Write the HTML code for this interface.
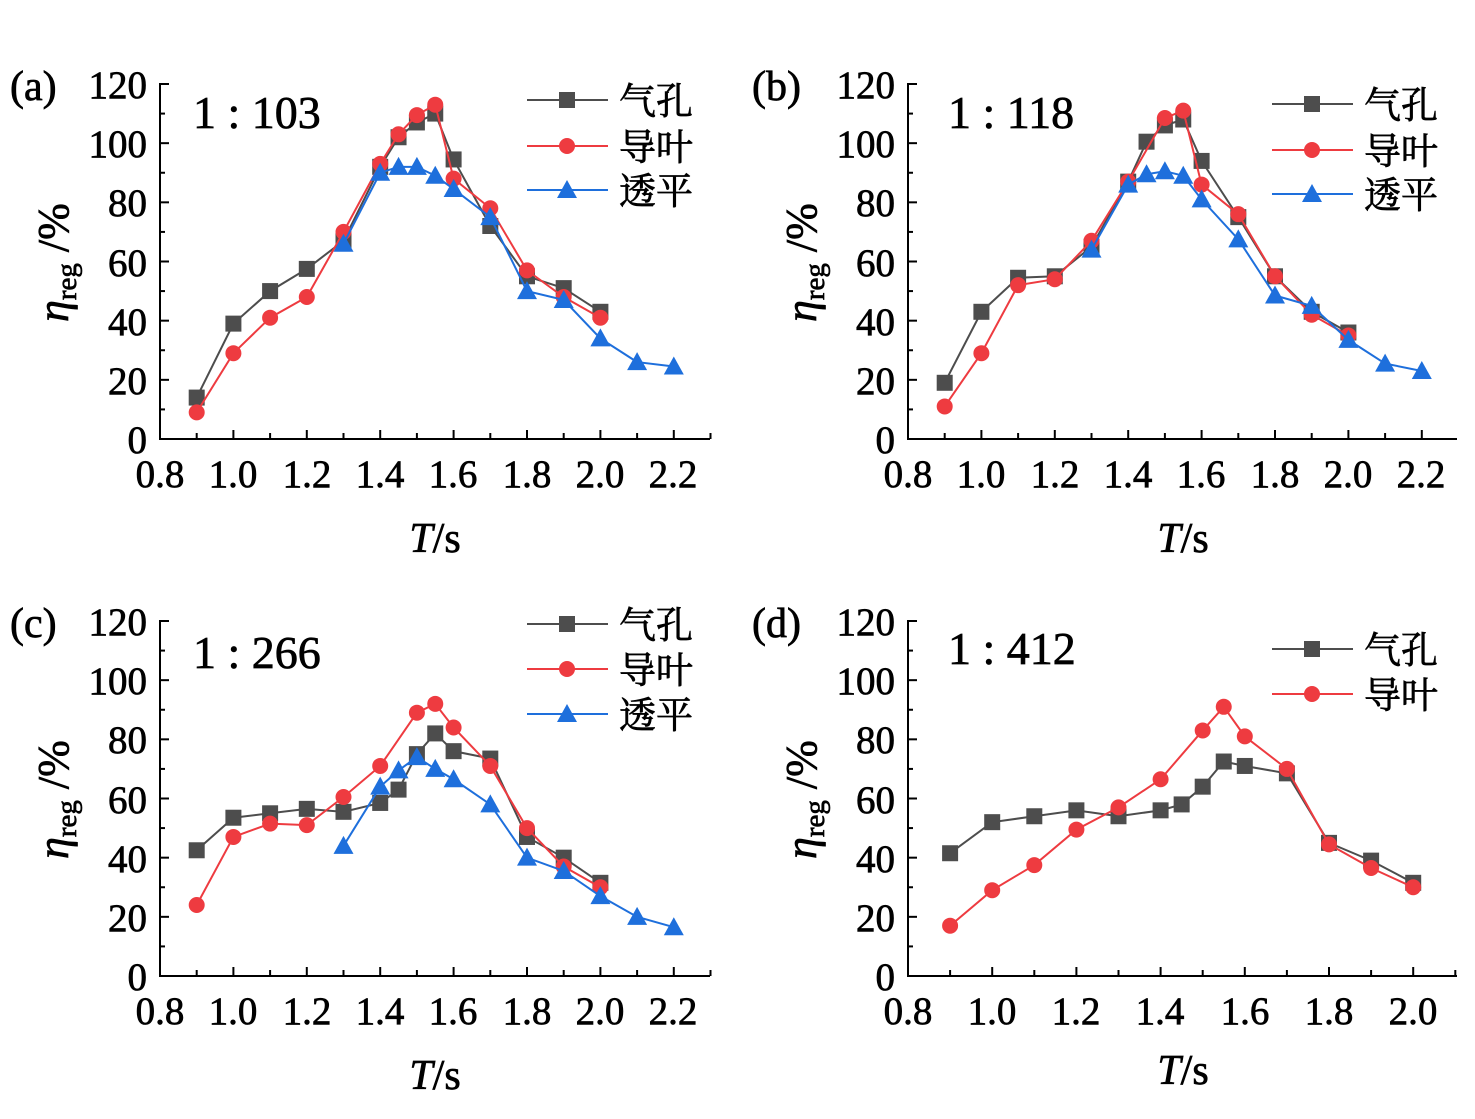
<!DOCTYPE html>
<html><head><meta charset="utf-8"><style>
body{margin:0;background:#fff}
svg{display:block}
text{font-family:"Liberation Serif","Noto Serif CJK SC",serif;fill:#000;stroke:#000;stroke-width:0.7}
.t{font-size:39px}
.lg{font-size:37px;font-family:"Noto Sans CJK SC","WenQuanYi Zen Hei",sans-serif;stroke-width:0.3}
</style></head><body>
<svg id="s" width="1475" height="1119" xmlns="http://www.w3.org/2000/svg">
<g id="g"></g>
<text x="10" y="100" style="font-size:42px">(a)</text>
<text x="752" y="100" style="font-size:42px">(b)</text>
<text x="10" y="637" style="font-size:42px">(c)</text>
<text x="752" y="637" style="font-size:42px">(d)</text>
<text x="193" y="128" style="font-size:46px">1 : 103</text>
<text x="948" y="128" style="font-size:46px">1 : 118</text>
<text x="193" y="668" style="font-size:46px">1 : 266</text>
<text x="948" y="664" style="font-size:46px">1 : 412</text>
<g class="t" text-anchor="end">
<text x="147" y="98">120</text><text x="147" y="157">100</text><text x="147" y="216">80</text><text x="147" y="276">60</text><text x="147" y="335">40</text><text x="147" y="394">20</text><text x="147" y="453">0</text>
<text x="895" y="98">120</text><text x="895" y="157">100</text><text x="895" y="216">80</text><text x="895" y="276">60</text><text x="895" y="335">40</text><text x="895" y="394">20</text><text x="895" y="453">0</text>
<text x="147" y="635">120</text><text x="147" y="694">100</text><text x="147" y="753">80</text><text x="147" y="813">60</text><text x="147" y="872">40</text><text x="147" y="931">20</text><text x="147" y="990">0</text>
<text x="895" y="635">120</text><text x="895" y="694">100</text><text x="895" y="753">80</text><text x="895" y="813">60</text><text x="895" y="872">40</text><text x="895" y="931">20</text><text x="895" y="990">0</text>
</g>
<g class="t" text-anchor="middle">
<text x="160" y="487">0.8</text><text x="233" y="487">1.0</text><text x="307" y="487">1.2</text><text x="380" y="487">1.4</text><text x="453" y="487">1.6</text><text x="527" y="487">1.8</text><text x="600" y="487">2.0</text><text x="673" y="487">2.2</text>
<text x="908" y="487">0.8</text><text x="981" y="487">1.0</text><text x="1055" y="487">1.2</text><text x="1128" y="487">1.4</text><text x="1201" y="487">1.6</text><text x="1275" y="487">1.8</text><text x="1348" y="487">2.0</text><text x="1421" y="487">2.2</text>
<text x="160" y="1024">0.8</text><text x="233" y="1024">1.0</text><text x="307" y="1024">1.2</text><text x="380" y="1024">1.4</text><text x="453" y="1024">1.6</text><text x="527" y="1024">1.8</text><text x="600" y="1024">2.0</text><text x="673" y="1024">2.2</text>
<text x="908" y="1024">0.8</text><text x="992" y="1024">1.0</text><text x="1076" y="1024">1.2</text><text x="1160" y="1024">1.4</text><text x="1245" y="1024">1.6</text><text x="1329" y="1024">1.8</text><text x="1413" y="1024">2.0</text>
</g>
<g style="font-size:42px" text-anchor="middle">
<text x="435" y="552"><tspan font-style="italic">T</tspan>/s</text>
<text x="1183" y="552"><tspan font-style="italic">T</tspan>/s</text>
<text x="435" y="1089"><tspan font-style="italic">T</tspan>/s</text>
<text x="1183" y="1084"><tspan font-style="italic">T</tspan>/s</text>
</g>
<g style="font-size:44px">
<text transform="translate(68,322) rotate(-90)"><tspan font-style="italic">η</tspan><tspan font-size="29" dy="8">reg</tspan><tspan dy="-8"> /%</tspan></text>
<text transform="translate(816,322) rotate(-90)"><tspan font-style="italic">η</tspan><tspan font-size="29" dy="8">reg</tspan><tspan dy="-8"> /%</tspan></text>
<text transform="translate(68,859) rotate(-90)"><tspan font-style="italic">η</tspan><tspan font-size="29" dy="8">reg</tspan><tspan dy="-8"> /%</tspan></text>
<text transform="translate(816,859) rotate(-90)"><tspan font-style="italic">η</tspan><tspan font-size="29" dy="8">reg</tspan><tspan dy="-8"> /%</tspan></text>
</g>
<g class="lg">
<text x="619" y="114">气孔</text><text x="619" y="160">导叶</text><text x="619" y="204">透平</text>
<text x="1364" y="118">气孔</text><text x="1364" y="164">导叶</text><text x="1364" y="208">透平</text>
<text x="619" y="638">气孔</text><text x="619" y="683">导叶</text><text x="619" y="728">透平</text>
<text x="1364" y="663">气孔</text><text x="1364" y="708">导叶</text>
</g>
</svg>
<script>
const G=document.getElementById('g');let h='';
const C={k:'#4d4d4d',r:'#ee3b40',b:'#1e6fdc'};
function mk(t,x,y){if(t=='k')return `<rect x="${x-8}" y="${y-8}" width="16" height="16" fill="${C.k}"/>`;
if(t=='r')return `<circle cx="${x}" cy="${y}" r="8" fill="${C.r}"/>`;
return `<polygon points="${x},${y-10} ${x-10},${y+8} ${x+10},${y+8}" fill="${C.b}"/>`;}
function panel(p){const {x0,y0,dx,xend,ser,leg}=p;const sy=355/120;
 h+=`<path d="M${x0} ${y0-355-1}V${y0}H${xend}" fill="none" stroke="#000" stroke-width="2"/>`;
 for(let v=0;v<=120;v+=10){const y=y0-v*sy;h+=`<line x1="${x0}" x2="${x0+(v%20?5:9)}" y1="${y}" y2="${y}" stroke="#000" stroke-width="2"/>`;}
 for(let i=1;x0+i*dx<=xend+1;i++){const x=x0+i*dx;h+=`<line x1="${x}" x2="${x}" y1="${y0}" y2="${y0-(i%2?6:9)}" stroke="#000" stroke-width="2"/>`;}
 const X=t=>x0+(t-0.8)*10*dx,Y=v=>y0-v*sy;
 for(const [c,d] of ser){h+=`<polyline fill="none" stroke="${C[c]}" stroke-width="2" points="${d.map(q=>X(q[0])+','+Y(q[1])).join(' ')}"/>`;
  d.forEach(q=>h+=mk(c,X(q[0]),Y(q[1])));}
 leg.forEach(l=>{h+=`<line x1="${l[1]}" x2="${l[1]+81}" y1="${l[2]}" y2="${l[2]}" stroke="${C[l[0]]}" stroke-width="2"/>`+mk(l[0],l[1]+40,l[2]);});
}
const T=[0.9,1.0,1.1,1.2,1.3,1.4,1.45,1.5,1.55,1.6,1.7,1.8,1.9,2.0];
const z=(ts,vs)=>ts.map((t,i)=>[t,vs[i]]).filter(q=>q[1]!=null);
const TB=[1.3,1.4,1.45,1.5,1.55,1.6,1.7,1.8,1.9,2.0,2.1,2.2];
panel({x0:160,y0:439,dx:36.7,xend:710,
 ser:[['k',z(T,[14,39,50,57.5,67,92,102,107,110,94.5,72,55,51,43])],
      ['r',z(T,[9,29,41,48,70,93,103,109.5,113,88,78,57,48,41])],
      ['b',z(TB,[66,90,92,92,89,84.5,75,50,47,34,26,24.5])]],
 leg:[['k',527,100],['r',527,146],['b',527,190]]});
panel({x0:908,y0:439,dx:36.7,xend:1457,
 ser:[['k',z(T,[19,43,54.5,55,65,87,100.5,106,108,94,75,55,43,36])],
      ['r',z(T,[11,29,52,54,67,87,null,108.5,111,86,76,55,42,35])],
      ['b',z(TB,[64,86,89.5,90.5,89,81,67.5,48.5,45,33.5,25.5,23])]],
 leg:[['k',1272,104],['r',1272,150],['b',1272,194]]});
panel({x0:160,y0:976,dx:36.7,xend:710,
 ser:[['k',z(T,[42.5,53.5,55,56.5,55.5,58.5,63,75,82,76,73.5,47,40,31.5])],
      ['r',z(T,[24,47,51.5,51,60.5,71,null,89,92,84,71,50,37,30])],
      ['b',z(TB,[44,64,69.5,74,70,66.5,58,40,35.5,27,20,16.5])]],
 leg:[['k',527,624],['r',527,669],['b',527,714]]});
panel({x0:908,y0:976,dx:42.1,xend:1457,
 ser:[['k',z(T,[41.5,52,54,56,54,56,58,64,72.5,71,68.5,45,39,31.5])],
      ['r',z(T,[17,29,37.5,49.5,57,66.5,null,83,91,81,70,44.5,36.5,30])]],
 leg:[['k',1272,649],['r',1272,694]]});
G.innerHTML=h;
</script>
</body></html>
